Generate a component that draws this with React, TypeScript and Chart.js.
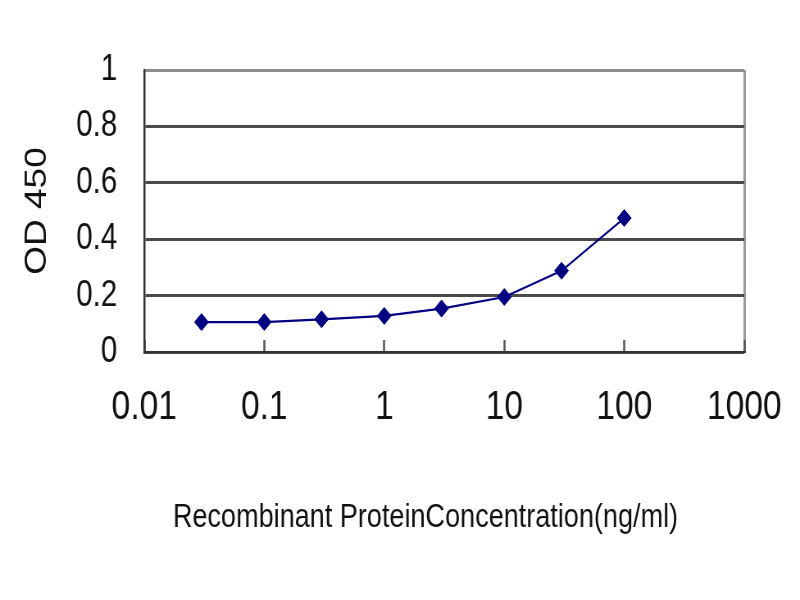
import React, { useEffect, useRef } from "react";
import { Chart, registerables } from "chart.js";

Chart.register(...registerables);

// Concentrations (ng/ml) and measured OD 450
const concentrations = [0.03, 0.1, 0.3, 1, 3, 10, 30, 100];
const odValues = [0.106, 0.106, 0.116, 0.128, 0.154, 0.195, 0.288, 0.475];

// Axis tick values / labels
const xTickValues = [0.01, 0.1, 1, 10, 100, 1000];
const xTickLabels = ["0.01", "0.1", "1", "10", "100", "1000"];
const yTickValues = [0, 0.2, 0.4, 0.6, 0.8, 1];
const yTickLabels = ["0", "0.2", "0.4", "0.6", "0.8", "1"];

const xTitle = "Recombinant ProteinConcentration(ng/ml)";
const yTitle = "OD 450";

const FONT = "'Liberation Sans', Arial, sans-serif";

// The source picture is horizontally compressed; render on a wider canvas
// and display it at 800px so that text looks narrow like the reference.
const CSS_W = 800;
const CSS_H = 600;
const SX = 1.22;
const PX_W = Math.round(CSS_W * SX);

export default function App() {
  const canvasRef = useRef<HTMLCanvasElement | null>(null);

  useEffect(() => {
    const canvas = canvasRef.current;
    if (!canvas) return;
    const points = concentrations.map((c, i) => ({ x: c, y: odValues[i] }));
    const chart = new Chart(canvas, {
      type: "line",
      data: {
        datasets: [
          {
            data: points,
            borderColor: "#000080",
            backgroundColor: "#000080",
            borderWidth: 2.2,
            pointStyle: "rectRot",
            pointRadius: 8.5,
            pointBorderWidth: 1,
            pointBackgroundColor: "#000080",
            pointBorderColor: "#000080",
            tension: 0,
          },
        ],
      },
      options: {
        animation: false,
        responsive: false,
        maintainAspectRatio: false,
        devicePixelRatio: 1,
        layout: { padding: { top: 70, right: Math.round(56 * SX), left: 0, bottom: 0 } },
        plugins: {
          legend: { display: false },
          tooltip: { enabled: false },
        },
        scales: {
          x: {
            type: "logarithmic",
            min: 0.01,
            max: 1000,
            afterBuildTicks: (scale: any) => {
              scale.ticks = xTickValues.map((v) => ({ value: v }));
            },
            afterFit: (scale: any) => {
              scale.height = 248;
              scale.paddingLeft = 0;
              scale.paddingRight = 0;
            },
            ticks: {
              autoSkip: false,
              maxRotation: 0,
              padding: 43,
              color: "#111",
              font: { family: FONT, size: 41 },
              callback: (_v: any, i: number) => xTickLabels[i],
            },
            grid: {
              drawTicks: true,
              tickLength: -12,
              tickWidth: 2.5,
              tickColor: "#555",
              lineWidth: 3,
              color: (ctx: any) =>
                ctx.index === xTickValues.length - 1 ? "#9a9a9a" : "rgba(0,0,0,0)",
            },
            border: { display: true, color: "#333", width: 2 },
            title: {
              display: true,
              text: xTitle + "     ",
              color: "#111",
              font: { family: FONT, size: 33 },
              padding: { top: 0, bottom: 62 },
            },
          },
          y: {
            type: "linear",
            min: 0,
            max: 1,
            afterBuildTicks: (scale: any) => {
              scale.ticks = yTickValues.map((v) => ({ value: v }));
            },
            afterFit: (scale: any) => {
              scale.width = Math.round(144 * SX);
              scale.paddingTop = 0;
              scale.paddingBottom = 0;
            },
            ticks: {
              padding: Math.round(27 * SX),
              color: "#111",
              font: { family: FONT, size: 36 },
              callback: (_v: any, i: number) => yTickLabels[i],
            },
            grid: {
              drawTicks: false,
              lineWidth: 3,
              color: (ctx: any) =>
                ctx.tick && ctx.tick.value === 1 ? "#8c8c8c" : "#4a4a4a",
            },
            border: { display: true, color: "#333", width: 2.5 },
            title: {
              display: true,
              text: yTitle,
              color: "#111",
              font: { family: FONT, size: 37 },
              padding: { top: 24, bottom: 0 },
            },
          },
        },
      },
    });
    return () => chart.destroy();
  }, []);

  return (
    <div style={{ position: "absolute", left: 0, top: 0, width: CSS_W, height: CSS_H, background: "#fff" }}>
      <canvas
        ref={canvasRef}
        width={PX_W}
        height={CSS_H}
        style={{ display: "block", width: CSS_W, height: CSS_H }}
      />
    </div>
  );
}
